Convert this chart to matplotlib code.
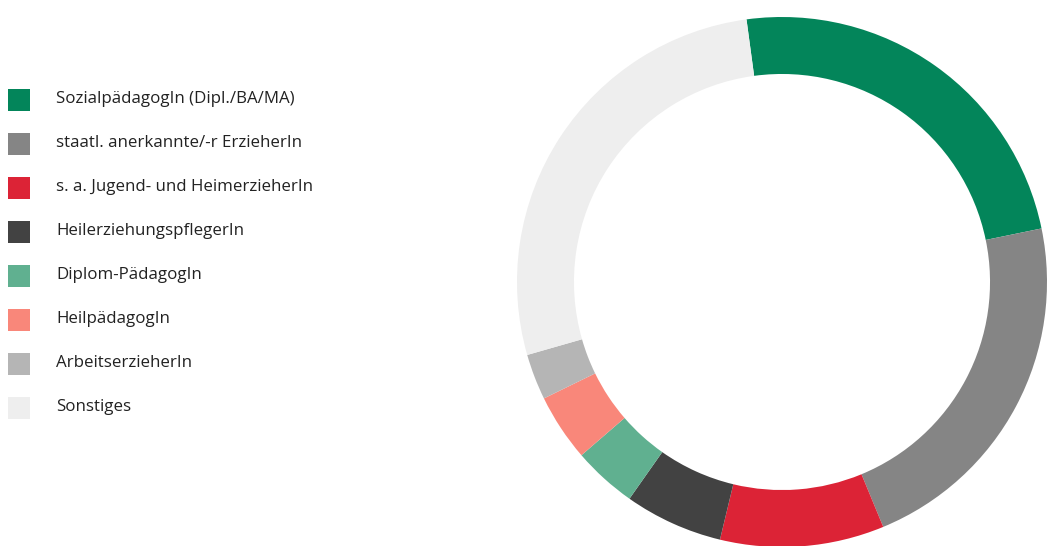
import matplotlib
matplotlib.use("Agg")
import matplotlib.pyplot as plt
from matplotlib.patches import Rectangle

labels = [
    "SozialpädagogIn (Dipl./BA/MA)",
    "staatl. anerkannte/-r ErzieherIn",
    "s. a. Jugend- und HeimerzieherIn",
    "HeilerziehungspflegerIn",
    "Diplom-PädagogIn",
    "HeilpädagogIn",
    "ArbeitserzieherIn",
    "Sonstiges",
]
shares = [23.9, 22.0, 10.0, 6.0, 3.9, 4.1, 2.8, 27.3]
colors = ["#03855a", "#858585", "#dc2336", "#424242", "#60b090", "#f9877a", "#b5b5b5", "#eeeeee"]


def main():
    W, H = 1048, 546
    fig = plt.figure(figsize=(W / 100, H / 100), dpi=100)
    fig.set_facecolor("white")

    # donut
    cx, cy, r = 782, 282, 265
    ax = fig.add_axes([(cx - r) / W, (H - cy - r) / H, 2 * r / W, 2 * r / H])
    ax.pie(shares, colors=colors, startangle=97.7, counterclock=False, radius=1,
           wedgeprops=dict(width=0.215, linewidth=0))
    ax.set_xlim(-1, 1)
    ax.set_ylim(-1, 1)
    ax.set_aspect("equal")
    ax.axis("off")

    # legend
    y0, step = 99, 44
    for i, (lab, col) in enumerate(zip(labels, colors)):
        y = y0 + i * step
        fig.add_artist(Rectangle((8 / W, (H - y - 12) / H), 22 / W, 22 / H,
                                 transform=fig.transFigure, facecolor=col, edgecolor="none"))
        fig.text(56 / W, (H - y) / H, lab, fontsize=12.2, family="Open Sans",
                 color="#222222", va="center", ha="left")

    fig.savefig("out.png", dpi=100, facecolor="white")


if __name__ == "__main__":
    main()
